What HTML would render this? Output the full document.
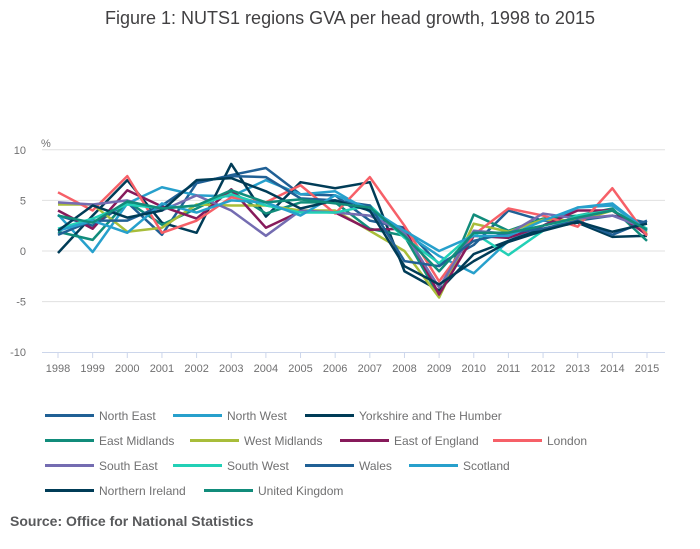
<!DOCTYPE html>
<html><head><meta charset="utf-8"><style>
body{margin:0;background:#fff;font-family:"Liberation Sans",sans-serif;}
#wrap{position:relative;width:700px;height:549px;overflow:hidden;}
.title{position:absolute;top:8px;left:0;width:700px;text-align:center;font-size:18px;color:#414042;}
.leg{position:absolute;font-size:12px;color:#707071;height:14px;line-height:14px;}
.leg span.l{position:absolute;left:0;top:5px;width:49px;height:3px;}
.leg span.t{position:absolute;left:54px;top:0;white-space:nowrap;}
.src{position:absolute;left:10px;top:513px;font-size:14px;font-weight:bold;color:#58595b;}
</style></head><body>
<div id="wrap">
<div class="title">Figure 1: NUTS1 regions GVA per head growth, 1998 to 2015</div>
<svg id="chart" width="700" height="400" style="position:absolute;left:0;top:0"></svg>
<div id="legend"></div>
<div class="src">Source: Office for National Statistics</div>
</div>
<script>
const years=[1998,1999,2000,2001,2002,2003,2004,2005,2006,2007,2008,2009,2010,2011,2012,2013,2014,2015];
const yTicks=[10,5,0,-5,-10];
const seriesNames=["North East","North West","Yorkshire and The Humber","East Midlands","West Midlands","East of England","London","South East","South West","Wales","Scotland","Northern Ireland","United Kingdom"];
const seriesColors=["#206095","#27a0cc","#003c57","#118c7b","#a8bd3a","#871a5b","#f66068","#746cb1","#22d0b6","#206095","#27a0cc","#003c57","#118c7b"];
const northEast=[3.5,2.5,4.8,1.6,6.7,7.5,8.2,5.6,5.5,3.0,2.3,-1.3,0.6,4.0,3.0,3.0,3.5,2.8];
const northWest=[3.6,-0.1,4.7,6.3,5.5,5.4,7.0,5.6,5.9,3.9,1.8,-0.5,-2.2,1.0,2.5,4.3,4.5,2.0];
const yorkshire=[-0.2,3.5,7.0,2.8,1.8,8.6,3.4,6.8,6.2,6.8,-2.0,-3.9,-0.3,1.0,2.2,2.8,1.4,1.5];
const eastMidlands=[1.9,1.1,4.9,2.6,4.2,5.9,3.7,4.8,4.8,2.2,1.5,-4.5,3.6,2.0,3.2,3.5,4.2,1.0];
const westMidlands=[4.6,4.6,1.9,2.3,4.6,4.5,4.5,4.0,4.0,2.0,0.0,-4.6,2.7,1.9,3.1,3.0,4.0,1.8];
const eastOfEngland=[4.0,2.2,6.0,4.4,3.2,6.1,2.3,3.9,3.8,2.1,2.2,-4.3,1.5,1.3,2.5,4.0,4.0,1.6];
const london=[5.8,4.0,7.4,1.8,3.0,5.3,4.8,6.5,3.7,7.3,2.5,-3.0,1.6,4.2,3.5,2.4,6.2,1.5];
const southEast=[4.8,4.6,5.0,4.0,5.5,4.0,1.5,4.0,3.8,3.5,1.8,-3.6,2.0,1.7,3.7,3.2,3.5,2.2];
const southWest=[2.2,3.2,4.6,4.2,4.5,5.6,4.5,3.8,3.8,4.5,1.3,-1.2,1.8,-0.4,2.0,3.5,4.0,2.2];
const wales=[1.6,3.0,3.0,4.5,6.8,7.4,7.3,5.2,5.0,4.5,-1.0,-1.5,1.0,1.8,2.2,3.0,1.6,3.0];
const scotland=[2.0,3.0,1.8,4.7,3.8,5.0,4.8,3.5,5.5,4.2,2.0,0.0,1.5,1.5,3.0,4.3,4.7,2.0];
const northernIreland=[2.0,4.5,3.3,4.0,7.0,7.2,5.9,4.2,5.0,4.0,-1.5,-3.3,-1.0,0.9,2.0,2.9,1.9,2.7];
const unitedKingdom=[3.5,2.8,4.9,4.2,4.5,6.0,4.8,5.1,4.7,4.3,1.5,-2.0,1.8,1.8,2.5,3.3,4.0,2.1];
const seriesData=[northEast,northWest,yorkshire,eastMidlands,westMidlands,eastOfEngland,london,southEast,southWest,wales,scotland,northernIreland,unitedKingdom];

const NS="http://www.w3.org/2000/svg";
const svg=document.getElementById('chart');
const x=y=>58+(y-1998)*(647-58)/17;
const yS=v=>251-v*10.12;
function mk(t,a){const e=document.createElementNS(NS,t);for(const k in a)e.setAttribute(k,a[k]);svg.appendChild(e);return e;}
yTicks.forEach(t=>{
  if(t!==-10){const g=mk('line',{x1:42,x2:665,y1:yS(t),y2:yS(t),stroke:'#e0e0e0','stroke-width':1});
  
  }
  const tx=mk('text',{x:26,y:yS(t)+4,'font-size':11,fill:'#707071','text-anchor':'end','font-family':'Liberation Sans'});
  
  
  tx.textContent=t;
});
const pct=mk('text',{x:41,y:147,'font-size':11,fill:'#707071','font-family':'Liberation Sans'});


pct.textContent='%';
const ax=mk('line',{x1:42,x2:665,y1:352.5,y2:352.5,stroke:'#ccd6eb','stroke-width':1});


years.forEach(yr=>{
  const tk=mk('line',{x1:x(yr),x2:x(yr),y1:352,y2:358,stroke:'#ccd6eb'});
  
  
  const tx=mk('text',{x:x(yr),y:372,'font-size':11,fill:'#707071','text-anchor':'middle','font-family':'Liberation Sans'});
  
  
  tx.textContent=yr;
});
seriesData.forEach((d,i)=>{
  const p=mk('polyline',{points:d.map((v,j)=>x(years[j])+','+yS(v)).join(' '),fill:'none',stroke:seriesColors[i],'stroke-width':2.5,'stroke-linejoin':'round'});
  
  
});
const legPos=[[45,416],[173,416],[305,416],[45,441],[190,441],[340,441],[493,441],[45,466],[173,466],[305,466],[409,466],[45,491],[204,491]];
const leg=document.getElementById('legend');
seriesNames.forEach((n,i)=>{
  const d=document.createElement('div');
  d.className='leg';
  d.style.left=legPos[i][0]+'px';d.style.top=(legPos[i][1]-7)+'px';
  
  
  d.innerHTML='<span class="l" style="background:'+seriesColors[i]+'"></span><span class="t">'+n+'</span>';
  leg.appendChild(d);
});
</script>
</body></html>
